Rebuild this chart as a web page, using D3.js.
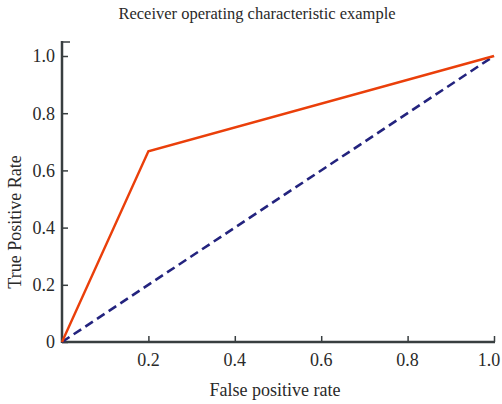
<!DOCTYPE html>
<html>
<head>
<meta charset="utf-8">
<script src="https://cdn.jsdelivr.net/npm/d3@7"></script>
<style>
  body { margin: 0; background: #fff; }
</style>
</head>
<body>
<script>
// roc curve points
const fpr = [0, 0.2, 1.0]
const tpr = [0, 0.667, 1.0]
// chance line
const diagX = [0, 1]
const diagY = [0, 1]
const xTicks = [0.2, 0.4, 0.6, 0.8, 1.0]
const yTicks = [0, 0.2, 0.4, 0.6, 0.8, 1.0]

const width = 502, height = 404
const x = d3.scaleLinear().domain([0, 1]).range([62, 494])
const y = d3.scaleLinear().domain([0, 1]).range([342, 56])
const fmt = d => d === 0 ? "0" : d.toFixed(1)
const axisColor = "#383e40"
const textColor = "#2a2a2a"
const serif = "'Liberation Serif', 'DejaVu Serif', serif"

const svg = d3.select("body").append("svg")
  .attr("width", width)
  .attr("height", height)
  .style("font-family", serif)

svg.append("text")
  .attr("x", 257).attr("y", 19)
  .attr("text-anchor", "middle")
  .style("font-family", serif)
  .style("font-size", "16.5px")
  .attr("fill", textColor)
  .text("Receiver operating characteristic example")

// x axis, ticks point inward
const gx = svg.append("g")
  .attr("transform", `translate(0,${y(0)})`)
  .call(d3.axisTop(x).tickValues(xTicks).tickSize(6).tickFormat(""))
gx.attr("font-family", null)
gx.select(".domain").remove()
gx.selectAll(".tick line").attr("stroke", axisColor).attr("stroke-width", 1.5)
gx.append("line")
  .attr("x1", x(0)).attr("x2", x(1) + 1)
  .attr("stroke", axisColor).attr("stroke-width", 2.5)
gx.selectAll(".tickLabel")
  .data(xTicks)
  .enter().append("text")
  .attr("x", d => d === 1 ? x(d) - 5 : x(d)).attr("y", 24)
  .attr("text-anchor", "middle")
  .attr("fill", textColor)
  .style("font-family", serif)
  .style("font-size", "18px")
  .text(fmt)

// y axis
const gy = svg.append("g")
  .attr("transform", `translate(${x(0)},0)`)
  .call(d3.axisRight(y).tickValues(yTicks).tickSize(6).tickFormat(""))
gy.attr("font-family", null)
gy.select(".domain").remove()
gy.selectAll(".tick line").attr("stroke", axisColor).attr("stroke-width", 1.5)
gy.append("line")
  .attr("y1", y(0) + 1).attr("y2", 41)
  .attr("stroke", axisColor).attr("stroke-width", 2.5)
gy.append("line")
  .attr("x1", -1).attr("x2", 8).attr("y1", 42).attr("y2", 42)
  .attr("stroke", axisColor).attr("stroke-width", 1.5)
gy.selectAll(".tickLabel")
  .data(yTicks)
  .enter().append("text")
  .attr("x", -7).attr("y", d => y(d)).attr("dy", "0.35em")
  .attr("text-anchor", "end")
  .attr("fill", textColor)
  .style("font-family", serif)
  .style("font-size", "18px")
  .text(fmt)

svg.append("text")
  .attr("x", 275).attr("y", 396)
  .attr("text-anchor", "middle")
  .attr("fill", textColor)
  .style("font-family", serif)
  .style("font-size", "18px")
  .text("False positive rate")

svg.append("text")
  .attr("transform", `translate(21,${(y(0) + y(1)) / 2 + 23}) rotate(-90)`)
  .attr("text-anchor", "middle")
  .attr("fill", textColor)
  .style("font-family", serif)
  .style("font-size", "18px")
  .text("True Positive Rate")

const line = d3.line().x(d => x(d[0])).y(d => y(d[1]))

svg.append("path")
  .datum(diagX.map((v, i) => [v, diagY[i]]))
  .attr("d", line)
  .attr("fill", "none")
  .attr("stroke", "#23237e")
  .attr("stroke-width", 2.6)
  .attr("stroke-dasharray", "9,5")

svg.append("path")
  .datum(fpr.map((v, i) => [v, tpr[i]]))
  .attr("d", line)
  .attr("fill", "none")
  .attr("stroke", "#ea3f0a")
  .attr("stroke-width", 2.4)
  .attr("stroke-linejoin", "miter")
</script>
</body>
</html>
